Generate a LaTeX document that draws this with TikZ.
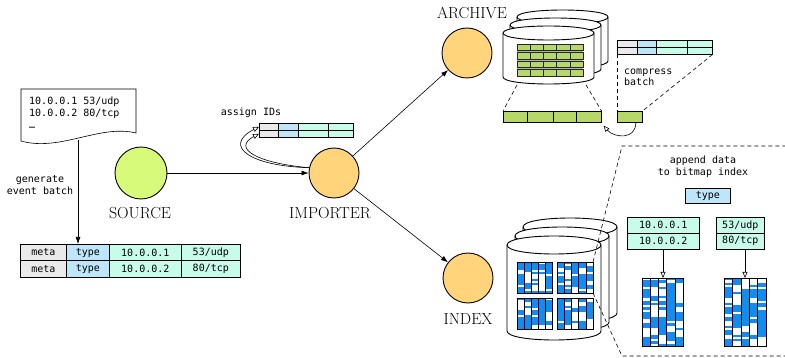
\documentclass[tikz,border=0pt]{standalone}
\usepackage{fontspec}
\setmonofont{DejaVu Sans Mono}
\usetikzlibrary{arrows.meta}
\definecolor{srcgreen}{RGB}{216,250,122}
\definecolor{orng}{RGB}{255,212,122}
\definecolor{metagray}{RGB}{234,234,234}
\definecolor{typeblue}{RGB}{190,230,250}
\definecolor{ipaqua}{RGB}{200,252,234}
\definecolor{cellgreen}{RGB}{182,216,104}
\definecolor{bitblue}{RGB}{18,140,240}
\newcommand\monof{\fontsize{10}{12}\selectfont\ttfamily}
% cylinder: x left, y top centre, width, ry, y bottom centre
\newcommand\mycyl[5]{%
  \filldraw[fill=white, line width=0.9pt]
    (#1,#2) -- (#1,#5) .. controls (#1,{#5+4/3*#4}) and ({#1+#3},{#5+4/3*#4}) .. ({#1+#3},#5)
    -- ({#1+#3},#2) .. controls ({#1+#3},{#2-4/3*#4}) and (#1,{#2-4/3*#4}) .. (#1,#2) -- cycle;
  \draw[line width=0.9pt] (#1,#2) .. controls (#1,{#2+4/3*#4}) and ({#1+#3},{#2+4/3*#4}) .. ({#1+#3},#2);
}
\gdef\bstate{1}
% bitmap: x, y top, col width, height, ncols, nbands
\newcommand\mybitmap[6]{%
  \foreach \c in {1,...,#5}{%
    \foreach \k in {1,...,#6}{%
      \pgfmathsetmacro\rr{rnd}%
      \ifnum\bstate=1
        \ifdim\rr pt<0.24pt \gdef\bstate{0}\fi
      \else
        \ifdim\rr pt<0.45pt \gdef\bstate{1}\fi
      \fi
      \ifnum\bstate=1
        \fill[bitblue] ({#1+(\c-1)*#3},{#2+(\k-1)*#4/#6}) rectangle ++(#3,{#4/#6});
      \fi
    }%
    \draw[line width=0.5pt] ({#1+(\c-1)*#3},#2) rectangle ++(#3,#4);
  }%
  \draw[line width=0.7pt] (#1,#2) rectangle ++({#5*#3},#4);
}
\begin{document}
\begin{tikzpicture}[x=1pt,y=-1pt,
  lbl/.style={font=\fontsize{16}{18}\selectfont, inner sep=0},
  mono/.style={font=\monof, inner sep=0},
  tcell/.style={draw, line width=0.6pt, inner sep=0, anchor=north west, font=\monof},
  stcell/.style={draw, line width=0.5pt, inner sep=0, anchor=north west, minimum height=7pt},
  gcell/.style={draw, line width=0.6pt, inner sep=0, anchor=north west, fill=cellgreen, minimum height=11pt},
  circ/.style={circle, draw, line width=0.9pt, inner sep=0, minimum size=50pt},
  arr/.style={-{Latex[length=7pt,width=5pt]}, line width=0.6pt},
  oarr/.style={-{Triangle[open,length=6pt,width=5pt]}, line width=0.6pt},
  dsh/.style={dash pattern=on 4pt off 3pt, line width=0.6pt}]
\useasboundingbox (0,0) rectangle (785,358);
\pgfmathsetseed{11}

% ---------- document ----------
\filldraw[fill=white, line width=0.6pt] (21,89) -- (136,89) -- (136,133)
  .. controls (100,124) and (60,152) .. (21,141) -- cycle;
\node[mono, align=left, anchor=north west, font=\fontsize{10}{12}\selectfont\ttfamily] (doctext) at (29,96.5)
  {10.0.0.1 53/udp\\10.0.0.2 80/tcp\\…};
\coordinate (docarr) at (78,140);

% ---------- batch table ----------
\node[tcell, fill=metagray, minimum width=46pt, minimum height=16.5pt] (t1m) at (20,244) {meta};
\node[tcell, fill=typeblue, minimum width=43pt, minimum height=16.5pt] (t1t) at (66,244) {type};
\node[tcell, fill=ipaqua, minimum width=72pt, minimum height=16.5pt] (t1i) at (109,244) {10.0.0.1};
\node[tcell, fill=ipaqua, minimum width=59pt, minimum height=16.5pt] (t1p) at (181,244) {53/udp};
\node[tcell, fill=metagray, minimum width=46pt, minimum height=16.5pt] (t2m) at (20,260.5) {meta};
\node[tcell, fill=typeblue, minimum width=43pt, minimum height=16.5pt] (t2t) at (66,260.5) {type};
\node[tcell, fill=ipaqua, minimum width=72pt, minimum height=16.5pt] (t2i) at (109,260.5) {10.0.0.2};
\node[tcell, fill=ipaqua, minimum width=59pt, minimum height=16.5pt] (t2p) at (181,260.5) {80/tcp};
\draw[arr] (docarr) -- (docarr |- t1t.north);
\node[mono, align=center] (genlbl) at (40,185) {generate\\event batch};

% ---------- circles ----------
\node[circ, fill=srcgreen, minimum size=52pt] (src) at (141,173) {};
\node[lbl] (srclbl) at (140,213) {SOURCE};
\node[circ, fill=orng] (imp) at (334,173) {};
\node[lbl] (implbl) at (330,213) {IMPORTER};
\node[circ, fill=orng] (arc) at (467,53) {};
\node[lbl] (arclbl) at (472,13) {ARCHIVE};
\node[circ, fill=orng] (idx) at (468,278) {};
\node[lbl] (idxlbl) at (468,319) {INDEX};

\draw[arr] (src) -- (imp);
\draw[arr] (imp) -- (arc);
\draw[arr] (imp) -- (idx);

% ---------- assign IDs ----------
\node[mono] (assignlbl) at (251,113) {assign IDs};
\node[stcell, fill=metagray, minimum width=19pt] (s1m) at (259,123) {};
\node[stcell, fill=typeblue, minimum width=20pt] (s1t) at (278,123) {};
\node[stcell, fill=ipaqua, minimum width=30pt] (s1i) at (298,123) {};
\node[stcell, fill=ipaqua, minimum width=25pt] (s1p) at (328,123) {};
\node[stcell, fill=metagray, minimum width=19pt] (s2m) at (259,130) {};
\node[stcell, fill=typeblue, minimum width=20pt] (s2t) at (278,130) {};
\node[stcell, fill=ipaqua, minimum width=30pt] (s2i) at (298,130) {};
\node[stcell, fill=ipaqua, minimum width=25pt] (s2p) at (328,130) {};
\draw[oarr] (imp.168) .. controls (250,166) and (222,146) .. (s1m.west);
\draw[oarr] (imp.168) .. controls (256,163) and (232,148) .. (s2m.west);

% ---------- archive ----------
\mycyl{517}{17}{91}{7}{61}
\mycyl{510}{25}{91}{7}{69}
\mycyl{503}{33}{91}{7}{77}
\foreach \yy in {51.3,59.8,68.3}{
  \draw[gray!60, line width=1.6pt] (517,\yy) -- (583,\yy);
}
\foreach \yy in {44,52.5,61,69.5}{
  \foreach \i in {0,...,4}{
    \filldraw[fill=cellgreen, draw=black!85, line width=0.5pt] ({517+\i*13.2},\yy) rectangle ++(13.2,6.3);
  }
}
\coordinate (acl) at (517,85);
\coordinate (acr) at (586,85);
\node[gcell, minimum width=24pt] (xr1) at (503,111) {};
\node[gcell, minimum width=26pt] (xr2) at (527,111) {};
\node[gcell, minimum width=23pt] (xr3) at (553,111) {};
\node[gcell, minimum width=25pt] (xr4) at (576,111) {};
\node[gcell, minimum width=25pt] (sc) at (617,111) {};
\draw[dsh] (acl) -- (xr1.north west);
\draw[dsh] (acr) -- (xr4.north east);

\node[stcell, fill=metagray, minimum width=20pt] (c1m) at (617,40) {};
\node[stcell, fill=typeblue, minimum width=19pt] (c1t) at (637,40) {};
\node[stcell, fill=ipaqua, minimum width=31pt] (c1i) at (656,40) {};
\node[stcell, fill=ipaqua, minimum width=25pt] (c1p) at (687,40) {};
\node[stcell, fill=metagray, minimum width=20pt] (c2m) at (617,47) {};
\node[stcell, fill=typeblue, minimum width=19pt] (c2t) at (637,47) {};
\node[stcell, fill=ipaqua, minimum width=31pt] (c2i) at (656,47) {};
\node[stcell, fill=ipaqua, minimum width=25pt] (c2p) at (687,47) {};
\draw[dsh] (c2m.south west) -- (sc.north west);
\draw[dsh] (c2p.south east) -- (sc.north east);
\node[mono, align=left, anchor=west, font=\fontsize{10}{11}\selectfont\ttfamily] (complbl) at (624,77.5) {compress\\batch};
\draw[oarr] ([xshift=6pt]sc.south) .. controls (636,140) and (614,138) .. ([shift={(2,3)}]xr4.south east);

% ---------- index ----------
\mycyl{523}{227}{94}{9}{313}
\mycyl{515}{236}{94}{9}{322}
\mycyl{507}{245}{94}{9}{331}
\mybitmap{517}{262}{7}{31}{5}{15}
\mybitmap{557}{262}{7.2}{31}{5}{15}
\mybitmap{517}{298}{7}{31}{5}{15}
\mybitmap{557}{298}{7.2}{31}{5}{15}
\coordinate (b2tr) at (593,262);
\coordinate (b2br) at (593,293);
\coordinate (ztl) at (622,146);
\coordinate (ztr) at (790,146);
\coordinate (zbl) at (622,356);
\coordinate (zbr) at (790,356);
\draw[dsh] (b2tr) -- (ztl) -- (ztr);
\draw[dsh] (b2br) -- (zbl) -- (zbr);

% ---------- zoomed bitmap index ----------
\node[mono, align=center] (applbl) at (703,167) {append data\\to bitmap index};
\node[tcell, fill=typeblue, minimum width=45pt, minimum height=15pt] (ztype) at (685,188) {type};
\node[tcell, fill=ipaqua, minimum width=72pt, minimum height=16pt] (ip1) at (627,217) {10.0.0.1};
\node[tcell, fill=ipaqua, minimum width=72pt, minimum height=16pt] (ip2) at (627,233) {10.0.0.2};
\node[tcell, fill=ipaqua, minimum width=48pt, minimum height=16pt] (pt1) at (716,217) {53/udp};
\node[tcell, fill=ipaqua, minimum width=48pt, minimum height=16pt] (pt2) at (716,233) {80/tcp};
\mybitmap{642}{278}{8.2}{68}{5}{30}
\mybitmap{724}{278}{8.4}{68}{5}{30}
\coordinate (bm1top) at (663,278);
\coordinate (bm2top) at (745,278);
\draw[oarr] (ip2.south -| bm1top) -- (bm1top);
\draw[oarr] (pt2.south -| bm2top) -- (bm2top);
\end{tikzpicture}
\end{document}
